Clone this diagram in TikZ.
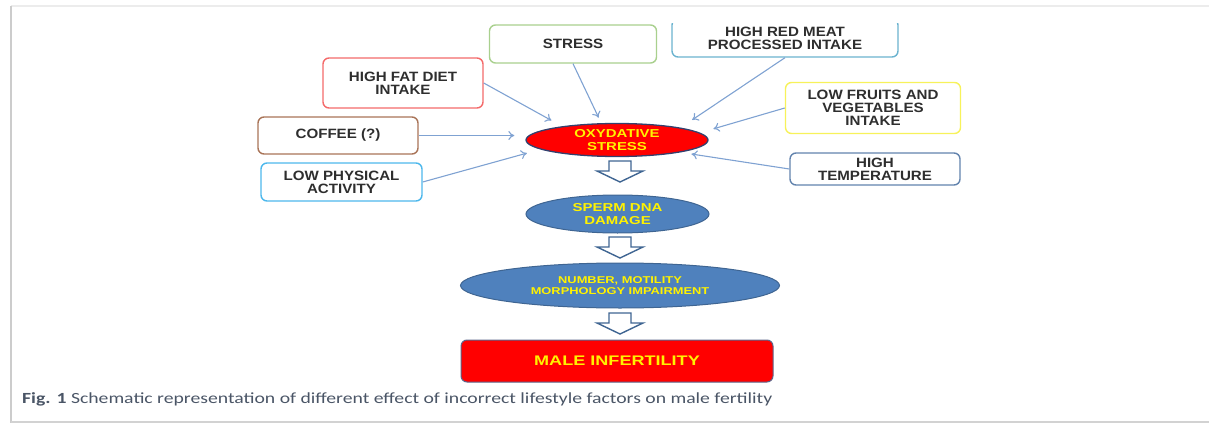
\documentclass[tikz,border=0pt]{standalone}
\usepackage{fontspec}
\setmainfont{Liberation Sans}
\newfontfamily\boxfont{Liberation Sans}[FakeStretch=1.12]
\newfontfamily\ellfont{Liberation Sans}[FakeStretch=1.3]
\newfontfamily\capfont{Carlito}[FakeStretch=1.27]
\usepackage{tikz}
\usetikzlibrary{shapes.geometric,arrows.meta}

\definecolor{txtgray}{HTML}{2E2E2E}
\definecolor{stressgreen}{HTML}{A9D08E}
\definecolor{fatred}{HTML}{F46A6A}
\definecolor{coffeebrown}{HTML}{A97458}
\definecolor{skyblue}{HTML}{4DB8EC}
\definecolor{meatblue}{HTML}{6BB3CF}
\definecolor{fruityellow}{HTML}{F7F25A}
\definecolor{tempslate}{HTML}{6283AD}
\definecolor{arrowblue}{HTML}{7FA2D2}
\definecolor{ellblue}{HTML}{4F81BD}
\definecolor{ellborder}{HTML}{3F6592}
\definecolor{oxborder}{HTML}{33406E}
\definecolor{hintyellow}{HTML}{FFF200}
\definecolor{capgray}{HTML}{4A5566}

\tikzset{
  factor/.style={draw=#1, line width=1.4pt, rounded corners=6pt, fill=white,
    text=txtgray, align=center, inner sep=2pt,
    font=\boxfont\bfseries\fontsize{13.5}{13}\selectfont},
  effect/.style={ellipse, fill=ellblue, draw=ellborder, line width=1pt,
    text=hintyellow, align=center, inner sep=0pt},
  feed/.style={-{To[length=6pt,width=9pt]}, draw=arrowblue, line width=1.1pt},
  hollow/.style={draw=ellborder, fill=white, line width=1.4pt, line join=miter}
}

\begin{document}
\begin{tikzpicture}[x=1pt,y=-1pt]
	\useasboundingbox (0,0) rectangle (1209,425);
	
	%frame
	\draw[line width=2pt,gray!15] (11,6)--(1209,6);
	\draw[line width=2.5pt,gray!40] (11,6)--(11,423);
	\draw[line width=2pt,gray!35] (11,422)--(1209,422);
	
	\begin{scope}
	\clip (12,24) rectangle (1209,420);
	%factors
	\node[factor=stressgreen, minimum width=167pt, minimum height=38pt] (stress) at (573,44) {STRESS};
	\node[factor=meatblue, minimum width=226pt, minimum height=38pt] (meat) at (785,38) {HIGH RED MEAT\\PROCESSED INTAKE};
	\node[factor=fatred, minimum width=160pt, minimum height=50pt] (fat) at (403,83) {HIGH FAT DIET\\INTAKE};
	\node[factor=coffeebrown, minimum width=160pt, minimum height=37pt] (coffee) at (338,135.5) {COFFEE (?)};
	\node[factor=skyblue, minimum width=161pt, minimum height=38pt] (phys) at (341.5,182) {LOW PHYSICAL\\ACTIVITY};
	\node[factor=fruityellow, minimum width=175pt, minimum height=51pt] (fruits) at (873,108) {LOW FRUITS AND\\VEGETABLES\\INTAKE};
	\node[factor=tempslate, minimum width=170pt, minimum height=32pt] (temp) at (875,169) {HIGH\\TEMPERATURE};
	\end{scope}
	
	%chain
	\node[effect, fill=red, draw=oxborder, line width=1.3pt, minimum width=182pt, minimum height=33pt,
	  font=\ellfont\bfseries\fontsize{11.5}{12.5}\selectfont] (ox) at (617,140) {OXYDATIVE\\STRESS};
	\node[effect, minimum width=183pt, minimum height=38pt,
	  font=\ellfont\bfseries\fontsize{11.5}{12.5}\selectfont] (dna) at (617.5,214) {SPERM DNA\\DAMAGE};
	\node[effect, minimum width=319pt, minimum height=45pt,
	  font=\ellfont\bfseries\fontsize{9.9}{11}\selectfont] (num) at (620,285.5) {NUMBER, MOTILITY\\MORPHOLOGY IMPAIRMENT};
	\node[fill=red, draw=oxborder!80, line width=1pt, rounded corners=6pt, minimum width=312pt, minimum height=42pt,
	  text=hintyellow, font=\ellfont\bfseries\fontsize{13.9}{15}\selectfont] (male) at (617,361) {MALE INFERTILITY};
	
	%arrows into oxydative stress
	\draw[feed, shorten >=12pt] (fat.east) -- (ox.166);
	\draw[feed, shorten >=6pt] (stress.south) -- (ox.133);
	\draw[feed, shorten >=14pt] (meat.south) -- (ox.11);
	\draw[feed, shorten >=14pt] (fruits.west) -- (ox.5);
	\draw[feed, shorten >=11pt] (coffee.east) -- (coffee.east -| ox.west);
	\draw[feed, shorten >=14pt] (phys.east) -- (ox.187);
	\draw[feed, shorten >=11pt] (temp.west) -- (ox.349);
	
	%block arrows
	\foreach \y in {161,237,313}
	{\draw[hollow] (609,\y) -- ++(22,0) -- ++(0,10) -- ++(12,0) -- ++(-23,11) -- ++(-23,-11) -- ++(12,0) -- cycle;}
	
	%caption
	\node[anchor=base west, inner sep=0pt, text=capgray, font=\capfont\fontsize{15.5}{17}\selectfont] (cap) at (22,403)
	  {\textbf{Fig. 1} Schematic representation of different effect of incorrect lifestyle factors on male fertility};
\end{tikzpicture}
\end{document}
